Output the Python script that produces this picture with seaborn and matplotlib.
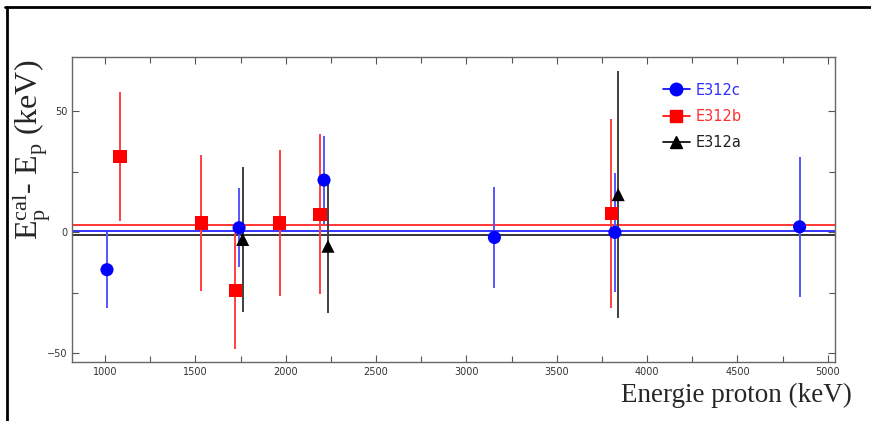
import numpy as np
import pandas as pd
import matplotlib
matplotlib.use("Agg")
import matplotlib.pyplot as plt
import seaborn as sns
from matplotlib.lines import Line2D
from matplotlib.ticker import MultipleLocator

# --- data ---
# E312c (blue circles)
c_energy = [1011, 1742, 2212, 3155, 3822, 4844]
c_delta = [-15.5, 1.8, 21.5, -2.2, -0.1, 2.2]
c_err = [15.7, 16.3, 18.0, 20.7, 24.5, 29.0]

# E312b (red squares)
b_energy = [1083, 1534, 1722, 1967, 2190, 3801]
b_delta = [31.2, 3.8, -24.2, 3.8, 7.4, 7.7]
b_err = [26.6, 28.0, 24.0, 30.0, 33.0, 39.0]

# E312a (black triangles)
a_energy = [1762, 2234, 3840]
a_delta = [-3.0, -5.8, 15.5]
a_err = [30.0, 27.7, 51.0]

# mean offsets (horizontal lines)
mean_c = 0.3
mean_b = 3.1
mean_a = -1.3

series_names = ["E312c", "E312b", "E312a"]

sns.set_style("ticks")
plt.rcParams["mathtext.fontset"] = "custom"
plt.rcParams["mathtext.rm"] = "Liberation Serif"
plt.rcParams["mathtext.it"] = "Liberation Serif:italic"

fig = plt.figure(figsize=(8.71, 4.21), dpi=100)
ax = fig.add_axes([0.0832, 0.139, 0.8755, 0.725])

blue, red, black = "#0000ff", "#ff0000", "#000000"
styles = [
    (c_energy, c_delta, c_err, mean_c, blue, "#5555ff", "o", 9),
    (b_energy, b_delta, b_err, mean_b, red, "#ff4040", "s", 9),
    (a_energy, a_delta, a_err, mean_a, black, "#404040", "^", 9),
]

for i, (x, y, e, m, col, ecol, mk, ms) in enumerate(styles):
    ax.axhline(m, color=col, lw=1.1, zorder=1)
    ax.errorbar(x, y, yerr=e, fmt="none", ecolor=ecol, elinewidth=1.4,
                capsize=0, zorder=2)
    df = pd.DataFrame({"energy": x, "delta": y})
    sns.scatterplot(data=df, x="energy", y="delta", ax=ax, color=col,
                    marker=mk, s=ms ** 2 * 1.1, edgecolor="none",
                    zorder=3 + i, legend=False)

ax.set_xlim(820, 5040)
ax.set_ylim(-53.8, 72.2)
ax.xaxis.set_major_locator(MultipleLocator(500))
ax.xaxis.set_minor_locator(MultipleLocator(250))
ax.yaxis.set_major_locator(MultipleLocator(50))
ax.yaxis.set_minor_locator(MultipleLocator(25))
ax.tick_params(which="both", direction="in", top=True, right=True,
               color="#555555", labelsize=7, labelcolor="#333333")
ax.tick_params(which="major", length=5, width=0.8)
ax.tick_params(which="minor", length=4, width=0.8)
for sp in ax.spines.values():
    sp.set_color("#666666")
    sp.set_linewidth(1.0)
ax.set_xlabel("")
ax.set_ylabel("")

# legend
handles = [
    Line2D([], [], color=blue, marker="o", ms=9, lw=1.2, markeredgecolor=blue),
    Line2D([], [], color=red, marker="s", ms=9, lw=1.2, markeredgecolor=red),
    Line2D([], [], color=black, marker="^", ms=9, lw=1.2, markeredgecolor=black),
]
leg = ax.legend(handles, series_names, loc="upper left",
                bbox_to_anchor=(0.757, 0.96), frameon=False, fontsize=10.5,
                handlelength=1.85, labelspacing=0.77, handletextpad=0.4)
for txt, col in zip(leg.get_texts(), ["#3030ff", "#ff3030", "#222222"]):
    txt.set_color(col)

# axis titles in serif
fig.text(0.037, 0.644, r"E$^{\rm cal}_{\rm p}$- E$_{\rm p}$ (keV)",
         rotation=90, ha="center", va="center", fontsize=23,
         family="Liberation Serif")
fig.text(0.978, 0.06, "Energie proton (keV)", ha="right", va="center",
         fontsize=19.5, family="Liberation Serif")

# outer frame (top and left edges)
fig.add_artist(Line2D([0.006, 1.0], [0.984, 0.984], color="black", lw=2,
                      transform=fig.transFigure))
fig.add_artist(Line2D([0.008, 0.008], [0.0, 0.984], color="black", lw=2,
                      transform=fig.transFigure))

fig.savefig("out.png", dpi=100)
